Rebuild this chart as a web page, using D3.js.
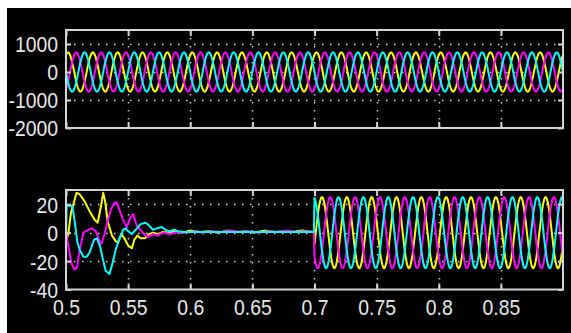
<!DOCTYPE html>
<html>
<head>
<meta charset="utf-8">
<script src="https://cdn.jsdelivr.net/npm/d3@7"></script>
<style>
  html, body { margin: 0; padding: 0; background: #ffffff; }
  svg { display: block; }
  .lbl text { font-family: "Liberation Sans", Arial, sans-serif; font-size: 22px; fill: #e8e8e8; }
</style>
</head>
<body>
<svg id="scope" width="571" height="333"></svg>
<script>
// ---- time axis ----
const timeDomain = [0.5, 0.9];
const timeTicks = [0.5, 0.55, 0.6, 0.65, 0.7, 0.75, 0.8, 0.85];

// ---- upper trace: three-phase voltage ----
const voltageDomain = [-2000, 1500];
const voltageTicks = [-2000, -1000, 0, 1000];
const phaseNames = ["a", "b", "c"];
const voltageAmplitude = [700, 700, 700];
const voltagePeakTime = [0.5016, 0.5016, 0.5016];   // peak instant of phase a
const phaseShiftDeg = [0, -120, -240];
const frequencyHz = 50;

// ---- lower trace: three-phase current ----
const currentDomain = [-40, 30];
const currentTicks = [-40, -20, 0, 20];
const currentAmplitude = [25, 25, 25];
const currentPeakTime = 0.706;   // peak instant of phase a after reconnection
const reconnectTime = 0.7;

// start-up transient and idle interval, [t, i] pairs
const currentTransientA = [
  [0.5000,-7],[0.5020,0],[0.5040,14],[0.5085,28],[0.5110,27],[0.5150,22],[0.5190,15],
  [0.5230,9],[0.5255,7],[0.5280,18],[0.5300,28],[0.5315,22],[0.5335,8],[0.5370,-2],
  [0.5400,-6],[0.5420,-7],[0.5445,-1],[0.5470,-4],[0.5500,-9],[0.5530,-11],[0.5550,-5],
  [0.5575,-2],[0.5600,-4],[0.5635,-4],[0.5670,-1],[0.5700,0],[0.5740,-1],[0.5780,0.5],
  [0.5830,0],[0.5880,1],[0.5940,0],[0.6000,1.5],[0.6080,0.5],[0.6150,1],[0.6230,0],
  [0.6300,1.5],[0.6380,0.5],[0.6450,1],[0.6520,0],[0.6600,1.5],[0.6680,0.5],[0.6750,1],
  [0.6820,0.5],[0.6900,1.5],[0.6995,0.5]
];
const currentTransientB = [
  [0.5000,0],[0.5020,-10],[0.5045,-22],[0.5070,-26],[0.5090,-24],[0.5110,-12],[0.5140,0],
  [0.5180,2],[0.5210,3],[0.5240,1],[0.5270,-6],[0.5285,-8],[0.5310,-1],[0.5340,10],
  [0.5365,17],[0.5390,21],[0.5410,21],[0.5430,16],[0.5460,9],[0.5490,4],[0.5520,11],
  [0.5540,13],[0.5570,5],[0.5600,2],[0.5640,-2],[0.5660,-3],[0.5700,-1],[0.5740,-2],
  [0.5780,0],[0.5840,-1],[0.5900,0.5],[0.5960,0],[0.6040,1],[0.6100,0],[0.6180,1],
  [0.6250,0.5],[0.6330,1.5],[0.6400,0.5],[0.6480,1],[0.6550,0],[0.6630,1],[0.6700,0.5],
  [0.6780,1.5],[0.6850,0.5],[0.6920,1],[0.6995,0.5]
];
const currentTransientC = [
  [0.5000,-5],[0.5005,19],[0.5050,19],[0.5070,8],[0.5090,-6],[0.5110,-12],[0.5140,-17],
  [0.5165,-17],[0.5190,-14],[0.5225,-5],[0.5250,-4],[0.5275,-10],[0.5300,-20],[0.5320,-27],
  [0.5350,-29],[0.5370,-23],[0.5400,-12],[0.5430,-4],[0.5460,2],[0.5480,3],[0.5500,1],
  [0.5530,-1],[0.5560,2],[0.5600,6],[0.5640,7],[0.5670,5],[0.5700,2],[0.5730,3],
  [0.5770,4],[0.5800,2],[0.5830,1],[0.5870,2],[0.5900,1],[0.5950,0.5],[0.6050,0.5],
  [0.6200,0.5],[0.6400,0.5],[0.6600,0.5],[0.6800,0.5],[0.6995,0.5]
];
const currentTransient = [currentTransientA, currentTransientB, currentTransientC];

// ---- drawing ----
const traceColors = ["#ffff00", "#ff00ff", "#00ffff"];
const frameColor = "#d4d4d4";
const gridColor = "#cfcfcf";
const labelSqueeze = 0.88;   // horizontal compression of tick labels

const svg = d3.select("#scope");
svg.append("rect").attr("x", 7).attr("y", 8).attr("width", 564).attr("height", 325).attr("fill", "#000");

const x = d3.scaleLinear().domain(timeDomain).range([66, 563]);
const sampleStep = 0.0005;
const omega = 2 * Math.PI * frequencyHz;

function sinusoid(amp, tPeak, shiftDeg, t0, t1) {
  const pts = [];
  const n = Math.round((t1 - t0) / sampleStep);
  for (let k = 0; k <= n; k++) {
    const t = t0 + k * sampleStep;
    pts.push([t, amp * Math.cos(omega * (t - tPeak) + shiftDeg * Math.PI / 180)]);
  }
  return pts;
}

function panel(id, top, bottom, yDomain, yTicks, series, showX) {
  const y = d3.scaleLinear().domain(yDomain).range([bottom, top]);
  const g = svg.append("g").attr("id", id);
  const left = x.range()[0], right = x.range()[1];

  g.append("clipPath").attr("id", id + "-clip")
    .append("rect").attr("x", left).attr("y", top).attr("width", right - left).attr("height", bottom - top);

  // dotted grid
  const grid = g.append("g").attr("stroke", gridColor).attr("stroke-width", 1.5)
    .attr("stroke-dasharray", "1.5,6.5");
  grid.selectAll("line.h").data(yTicks.filter(v => v > yDomain[0]))
    .join("line").attr("x1", left).attr("x2", right)
    .attr("y1", d => Math.round(y(d)) + 0.5).attr("y2", d => Math.round(y(d)) + 0.5);
  grid.selectAll("line.v").data(timeTicks.filter(v => v > timeDomain[0]))
    .join("line").attr("y1", top).attr("y2", bottom)
    .attr("x1", d => Math.round(x(d)) + 0.5).attr("x2", d => Math.round(x(d)) + 0.5);

  // traces
  const line = d3.line().x(d => x(d[0])).y(d => y(d[1]));
  const traces = g.append("g").attr("clip-path", `url(#${id}-clip)`);
  series.forEach((pts, i) => {
    traces.append("path").attr("d", line(pts)).attr("fill", "none")
      .attr("stroke", traceColors[i]).attr("stroke-width", 2).attr("stroke-linejoin", "round");
  });

  // frame
  g.append("rect").attr("x", left).attr("y", top).attr("width", right - left).attr("height", bottom - top)
    .attr("fill", "none").attr("stroke", frameColor).attr("stroke-width", 2);

  // axes with inward ticks
  const fmt = d => String(d);
  const yl = g.append("g").attr("class", "lbl").attr("transform", `translate(${left},0)`)
    .call(d3.axisLeft(y).tickValues(yTicks).tickSize(-5).tickPadding(8).tickFormat(fmt));
  const yr = g.append("g").attr("transform", `translate(${right},0)`)
    .call(d3.axisRight(y).tickValues(yTicks).tickSize(-5).tickFormat(""));
  const xt = g.append("g").attr("transform", `translate(0,${top})`)
    .call(d3.axisTop(x).tickValues(timeTicks).tickSize(-6).tickFormat(""));
  const xb = g.append("g").attr("class", "lbl").attr("transform", `translate(0,${bottom})`)
    .call(d3.axisBottom(x).tickValues(timeTicks).tickSize(-6).tickPadding(10).tickFormat(showX ? fmt : () => ""));
  [yl, yr, xt, xb].forEach(a => {
    a.select(".domain").remove();
    a.selectAll(".tick line").attr("stroke", frameColor).attr("stroke-width", 2);
  });
  yl.selectAll("text").attr("dy", "0.36em")
    .attr("transform", `translate(-8,0) scale(${labelSqueeze},1)`).attr("x", 0);
  xb.selectAll("text").attr("transform", `scale(${labelSqueeze},1)`);
}

// upper panel series
const voltageSeries = phaseNames.map((p, i) =>
  sinusoid(voltageAmplitude[i], voltagePeakTime[i], phaseShiftDeg[i], timeDomain[0], timeDomain[1]));

// lower panel series: transient, then reconnected sinusoid
const currentSeries = phaseNames.map((p, i) =>
  currentTransient[i].concat(sinusoid(currentAmplitude[i], currentPeakTime, phaseShiftDeg[i], reconnectTime, timeDomain[1])));

panel("upper", 30, 128, voltageDomain, voltageTicks, voltageSeries, false);
panel("lower", 190, 289.5, currentDomain, currentTicks, currentSeries, true);
</script>
</body>
</html>
